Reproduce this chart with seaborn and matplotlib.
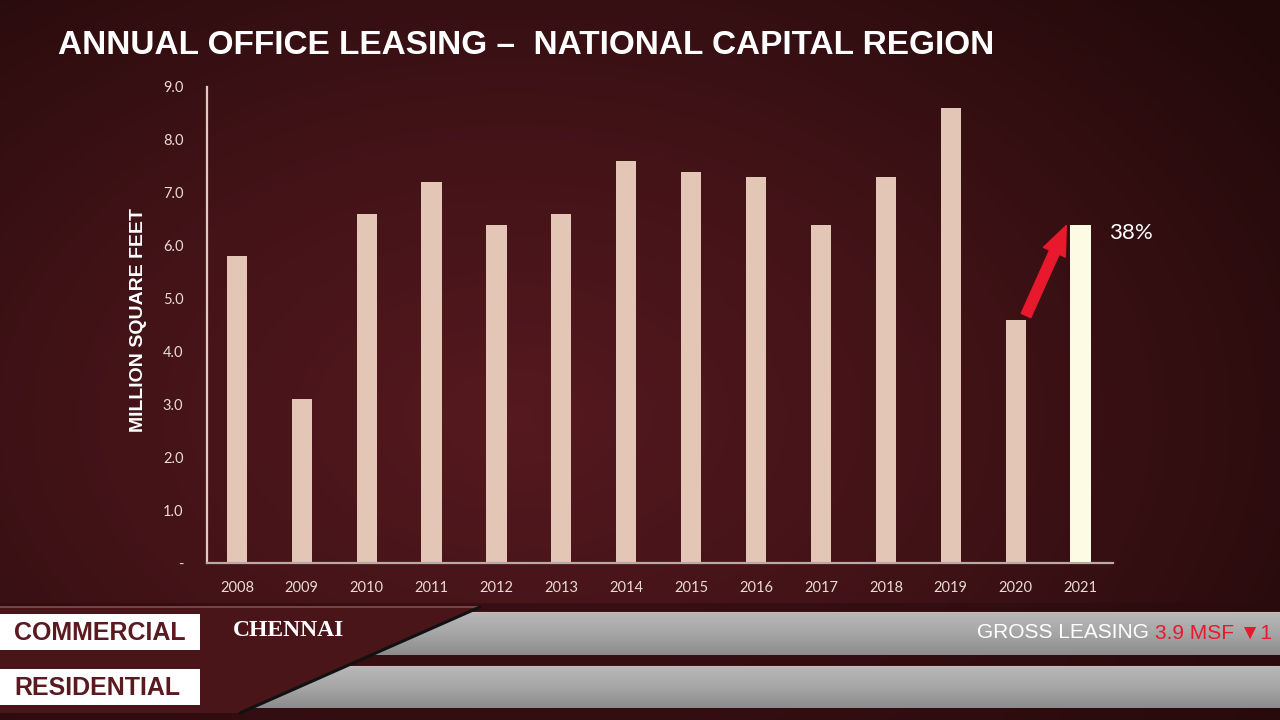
# -*- coding: utf-8 -*-
import numpy as np
import pandas as pd
import seaborn as sns
import matplotlib.pyplot as plt
from matplotlib.patches import Polygon, Rectangle
from matplotlib.colors import LinearSegmentedColormap

# data
years = ['2008', '2009', '2010', '2011', '2012', '2013', '2014',
         '2015', '2016', '2017', '2018', '2019', '2020', '2021']
leasing_msf = [5.8, 3.1, 6.6, 7.2, 6.4, 6.6, 7.6, 7.4, 7.3, 6.4, 7.3, 8.6, 4.6, 6.4]
bar_colors = ['#e3c6b6'] * 13 + ['#fdfbe4']
y_ticks = [0, 1, 2, 3, 4, 5, 6, 7, 8, 9]
y_tick_labels = ['-', '1.0', '2.0', '3.0', '4.0', '5.0', '6.0', '7.0', '8.0', '9.0']
growth_label = '38%'
title = 'ANNUAL OFFICE LEASING \u2013  NATIONAL CAPITAL REGION'
y_label = 'MILLION SQUARE FEET'
ticker_tabs = ['COMMERCIAL', 'RESIDENTIAL']
ticker_city = 'CHENNAI'
ticker_head = 'GROSS LEASING '
ticker_value = '3.9 MSF \u25bc1'

sns.set_style('white')
plt.rcParams['font.family'] = ['Lato', 'DejaVu Sans']

fig = plt.figure(figsize=(12.8, 7.2), dpi=100)

# radial maroon backdrop, in pixel coordinates
bg = fig.add_axes([0, 0, 1, 1], zorder=0)
bg.set_xlim(0, 1280)
bg.set_ylim(720, 0)
bg.axis('off')
gx, gy = np.meshgrid(np.linspace(0, 1, 640), np.linspace(0, 1, 360))
r = np.sqrt(((gx - 0.40) / 0.75) ** 2 + ((gy - 0.58) / 0.9) ** 2)
bg_cmap = LinearSegmentedColormap.from_list('bg', ['#55191f', '#3f1216', '#210909'])
bg.imshow(np.clip(r, 0, 1), cmap=bg_cmap, extent=(0, 1280, 720, 0), aspect='auto', vmin=0, vmax=1)

# title
fig.text(58 / 1280, 1 - 46 / 720, title, color='white', fontsize=24, fontweight='bold',
         family=['Liberation Sans', 'DejaVu Sans'], va='center', ha='left')

# main chart
ax = fig.add_axes([207 / 1280, 1 - 563 / 720, 906 / 1280, 476 / 720], zorder=2)
ax.patch.set_alpha(0)
df = pd.DataFrame({'year': years, 'msf': leasing_msf})
sns.barplot(data=df, x='year', y='msf', hue='year', palette=bar_colors, legend=False,
            width=0.31, saturation=1, linewidth=0, ax=ax)
ax.set_xlim(-0.46, 13.5)
ax.set_ylim(0, 9)
ax.set_yticks(y_ticks)
ax.set_yticklabels(y_tick_labels)
ax.tick_params(axis='y', length=0, pad=17, labelsize=10.5, labelcolor='#eadbd3')
ax.tick_params(axis='x', length=0, pad=13, labelsize=10.5, labelcolor='#eadbd3')
ax.set_xlabel('')
ax.set_ylabel(y_label, color='white', fontsize=14, fontweight='bold',
              family=['Liberation Sans', 'DejaVu Sans'])
ax.yaxis.set_label_coords(-60 / 906, 0.51)
for side in ['top', 'right']:
    ax.spines[side].set_visible(False)
ax.spines['left'].set_color('#e0cbc3')
ax.spines['left'].set_linewidth(1.6)
ax.spines['bottom'].set_color('#b9aaa5')
ax.spines['bottom'].set_linewidth(1.6)
ax.grid(False)

# growth arrow from 2020 to 2021
ax.annotate('', xy=(12.78, leasing_msf[13] - 0.02), xytext=(12.16, leasing_msf[12] + 0.08),
            arrowprops=dict(arrowstyle='simple,head_length=1.4,head_width=1.15,tail_width=0.5',
                            color='#e8192c', mutation_scale=15, shrinkA=0, shrinkB=0),
            zorder=5)
ax.text(13.44, leasing_msf[13] - 0.16, growth_label, color='white', fontsize=16,
        va='center', ha='left', clip_on=False)

# news ticker band at the bottom, in pixel coordinates
tk = fig.add_axes([0, 0, 1, 1], zorder=3)
tk.set_xlim(0, 1280)
tk.set_ylim(720, 0)
tk.axis('off')
tk.patch.set_alpha(0)

tk.add_patch(Rectangle((0, 603), 1280, 117, color='#2a0b0e', alpha=0.55, lw=0, zorder=1))


def slant_x(y):
    return 480 - (y - 607) * 240 / 106


grey_cmap = LinearSegmentedColormap.from_list('grey', ['#b8b8b8', '#a6a6a6', '#8c8c8c'])
grad = np.linspace(0, 1, 64).reshape(-1, 1)
for top, bot in [(612, 655), (666, 708)]:
    poly = Polygon([(slant_x(top), top), (1280, top), (1280, bot), (slant_x(bot), bot)],
                   closed=True, lw=0, fc='none', zorder=2)
    tk.add_patch(poly)
    im = tk.imshow(grad, cmap=grey_cmap, extent=(0, 1280, bot, top), aspect='auto', zorder=2)
    im.set_clip_path(poly)
    tk.plot([slant_x(top), 1280], [top, top], color='#d8b8b8', lw=0.8, alpha=0.7, zorder=3)
tk.set_xlim(0, 1280)
tk.set_ylim(720, 0)

tk.add_patch(Polygon([(0, 607), (480, 607), (240, 713), (0, 713)], closed=True,
                     fc='#4a1519', lw=0, zorder=4))
tk.plot([0, 480], [607, 607], color='#8a4a4e', lw=1.2, zorder=5)
tk.plot([480, 240], [607, 713], color='#111111', lw=2.2, zorder=5)

for (top, bot), label in zip([(614, 650), (669, 705)], ticker_tabs):
    tk.add_patch(Rectangle((0, top), 200, bot - top, fc='white', lw=0, zorder=6))
    tk.text(14, (top + bot) / 2 + 1, label, color='#5a1a20', fontsize=18, fontweight='bold',
            family=['Liberation Sans', 'DejaVu Sans'], va='center', ha='left', zorder=7)

tk.text(233, 630, ticker_city, color='white', fontsize=17, fontweight='bold',
        family=['Liberation Serif', 'DejaVu Serif'], va='center', ha='left', zorder=7)

t1 = tk.text(977, 633, ticker_head, color='white', fontsize=15,
             family=['Liberation Sans', 'DejaVu Sans'], va='center', ha='left', zorder=7)
tk.annotate(ticker_value, xycoords=t1, xy=(1, 0.5), va='center', ha='left', color='#e8192c',
            fontsize=15, family=['Liberation Sans', 'DejaVu Sans'],
            annotation_clip=False, zorder=7)

fig.savefig('out.png', dpi=100)
